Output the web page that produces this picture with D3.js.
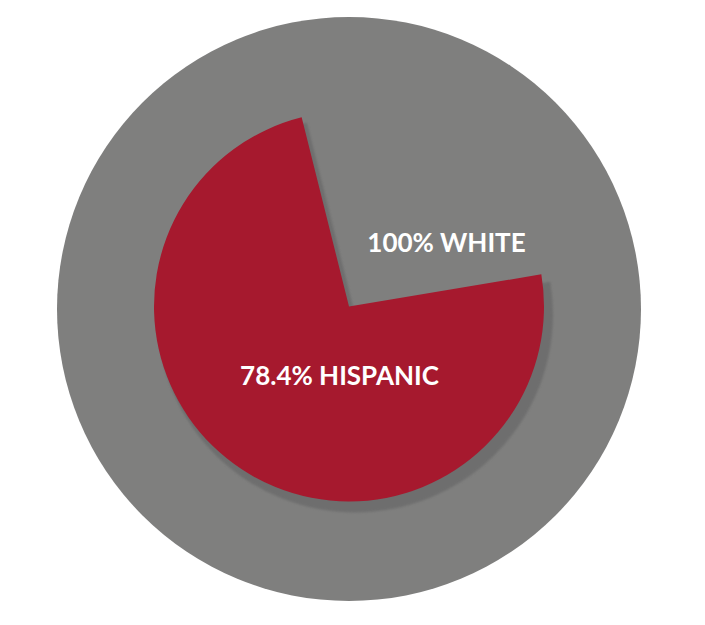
<!DOCTYPE html>
<html><head><meta charset="utf-8">
<script src="https://cdn.jsdelivr.net/npm/d3@7"></script>
<style>body{margin:0;background:#fff}svg{display:block}</style>
</head><body>
<svg id="c" width="705" height="625"></svg>
<script>
const categories = ["WHITE", "HISPANIC"];
const percents = [100, 78.4];
const labels = ["100% WHITE", "78.4% HISPANIC"];
const colors = ["#7f7f7e", "#a6192e"];

const svg = d3.select("#c");
const defs = svg.append("defs");
const f = defs.append("filter").attr("id","sh").attr("x","-20%").attr("y","-20%").attr("width","140%").attr("height","140%");
f.append("feGaussianBlur").attr("stdDeviation",1.2);

// outer ring: full-circle scale
const fullAngle = d3.scaleLinear().domain([0, 100]).range([0, 2*Math.PI]);
// inner wedge: angle scale calibrated to the drawn wedge in the reference
const startDeg = 80.5;
const wedgeAngle = d3.scaleLinear().domain([0, 100]).range([0, 2*Math.PI*0.9405]);
const start = startDeg*Math.PI/180;

const outer = d3.arc().innerRadius(0).outerRadius(292).startAngle(0).endAngle(d=>fullAngle(d));
const inner = r => d3.arc().innerRadius(0).outerRadius(r).startAngle(start).endAngle(d=>start+wedgeAngle(d));

svg.append("path").attr("transform","translate(349,309)").attr("d", outer(percents[0])).attr("fill", colors[0]);

svg.append("path").attr("transform","translate(355,314.5)").attr("d", inner(198)(percents[1])).attr("fill", "#6e6e6e").attr("filter","url(#sh)");
svg.append("path").attr("transform","translate(349,306.5)").attr("d", inner(195)(percents[1])).attr("fill", colors[1]);

const tp = [[446.5, 252.3], [339.5, 384.6]];
svg.selectAll("text.lbl").data(labels).join("text")
  .attr("class","lbl")
  .attr("x",(d,i)=>tp[i][0]).attr("y",(d,i)=>tp[i][1])
  .attr("text-anchor","middle")
  .attr("font-family","Lato, sans-serif").attr("font-weight","bold").attr("font-size",26)
  .attr("fill","#fff").text(d=>d);
</script>
</body></html>
